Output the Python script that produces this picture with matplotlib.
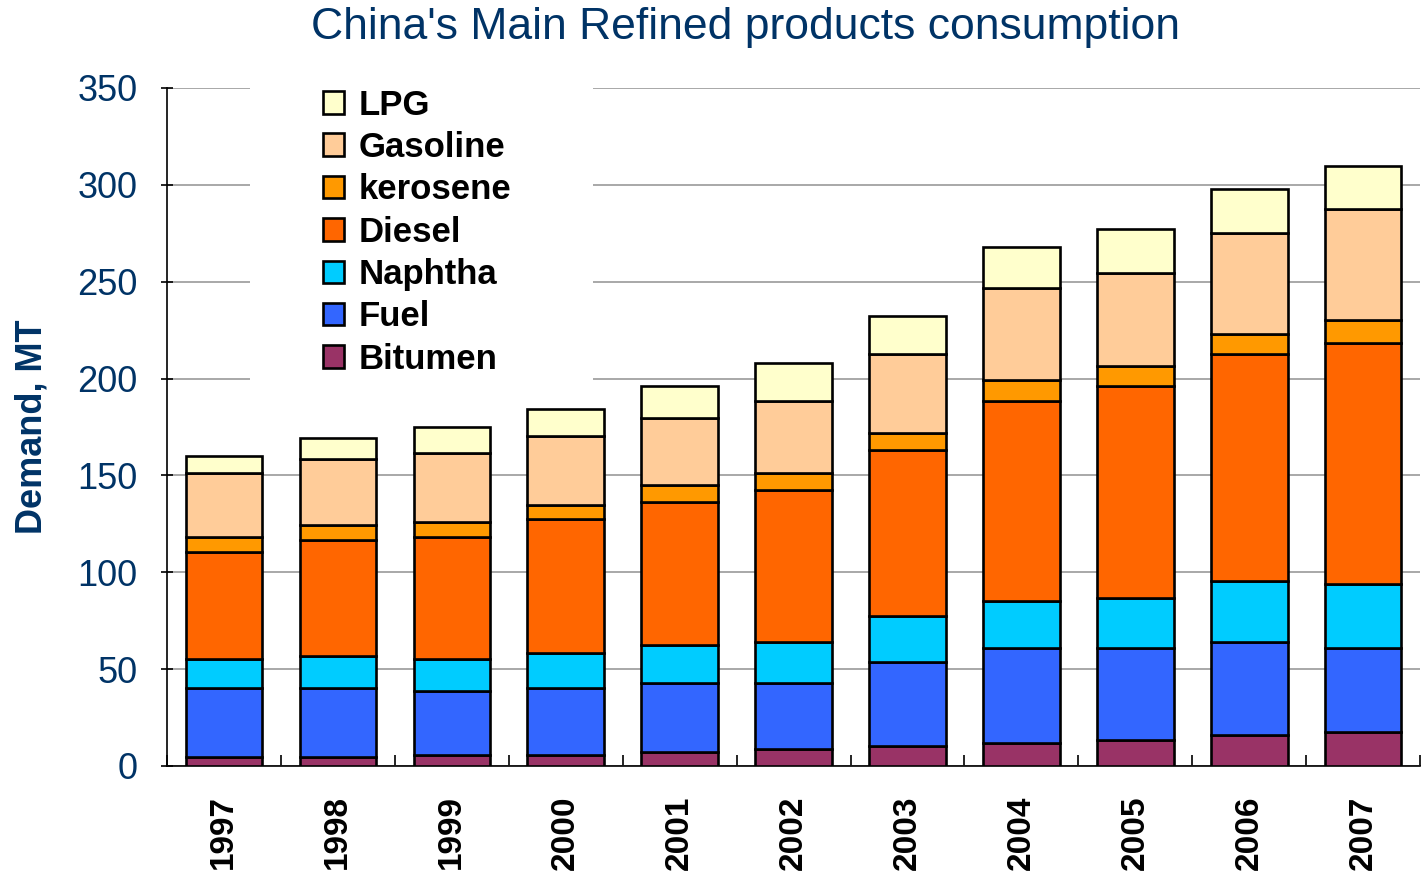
import matplotlib
matplotlib.use("Agg")
import matplotlib.pyplot as plt
from matplotlib.patches import Patch, Rectangle
import numpy as np

years = ["1997", "1998", "1999", "2000", "2001", "2002", "2003", "2004", "2005", "2006", "2007"]
bitumen = [4.6, 4.8, 5.7, 5.7, 7.2, 8.8, 10.3, 11.9, 13.4, 16.0, 17.6]
fuel = [35.7, 35.4, 33.0, 34.6, 35.6, 34.0, 43.4, 49.0, 47.5, 48.0, 43.3]
naphtha = [14.9, 16.8, 16.5, 18.0, 19.7, 21.2, 23.7, 24.3, 25.8, 31.5, 33.1]
diesel = [55.3, 59.7, 63.0, 69.2, 73.8, 78.5, 85.7, 103.2, 109.5, 117.2, 124.4]
kerosene = [7.7, 7.7, 7.8, 7.2, 8.7, 8.8, 8.8, 10.9, 10.3, 10.3, 11.9]
gasoline = [33.1, 34.1, 35.6, 35.7, 34.7, 37.1, 40.8, 47.5, 48.0, 52.2, 57.3]
lpg = [8.7, 10.8, 13.4, 13.9, 16.5, 19.6, 19.6, 21.2, 22.7, 22.7, 22.2]

series = [
    ("Bitumen", bitumen, "#993366"),
    ("Fuel", fuel, "#3366FF"),
    ("Naphtha", naphtha, "#00CCFF"),
    ("Diesel", diesel, "#FF6600"),
    ("kerosene", kerosene, "#FF9900"),
    ("Gasoline", gasoline, "#FFCC99"),
    ("LPG", lpg, "#FFFFCC"),
]

plt.rcParams["font.family"] = ["Liberation Sans", "DejaVu Sans"]
navy = "#003366"
fig = plt.figure(figsize=(14.26, 8.77), dpi=100)
ax = fig.add_axes([0.117, 0.1266, 0.879, 0.7731])

x = np.arange(len(years))
bottom = np.zeros(len(years))
for name, vals, col in series:
    ax.bar(x, vals, bottom=bottom, width=0.67, color=col, edgecolor="black",
           linewidth=1.9, zorder=3)
    bottom += np.array(vals)

ax.set_xlim(-0.5, len(years) - 0.5)
ax.set_ylim(0, 350)
ax.set_yticks(range(0, 351, 50))
ax.yaxis.grid(True, color="#999999", linewidth=1.2, zorder=0)
ax.set_axisbelow(True)

# white area behind legend hiding gridlines
ax.add_patch(Rectangle((0.066, 0.5), 0.274, 0.51, transform=ax.transAxes,
                       facecolor="white", edgecolor="none", zorder=1, clip_on=False))

for s in ["top", "right"]:
    ax.spines[s].set_visible(False)
ax.spines["left"].set_linewidth(1.2)
ax.spines["bottom"].set_linewidth(1.2)

ax.tick_params(axis="y", direction="inout", length=8, width=1.2, labelsize=26,
               labelcolor=navy, pad=17)
ax.set_xticks(x)
ax.set_xticklabels(years, rotation=90, fontsize=24, fontweight="bold")
ax.set_xticks(np.arange(-0.5, len(years), 1), minor=True)
ax.tick_params(axis="x", which="major", length=0, pad=21)
ax.tick_params(axis="x", which="minor", direction="in", length=8, width=1.2)

ax.set_ylabel("Demand, MT", fontsize=26, fontweight="bold", color=navy, labelpad=20)

handles = [Patch(facecolor=col, edgecolor="black", linewidth=1.9, label=name)
           for name, vals, col in series[::-1]]
leg = ax.legend(handles=handles, loc="upper left", bbox_to_anchor=(0.105, 1.035),
                frameon=False, prop={"size": 25, "weight": "bold"},
                handlelength=0.62, handleheight=0.62, handletextpad=0.4,
                labelspacing=0.27, borderpad=0.2)

fig.text(0.523, 0.969, "China's Main Refined products consumption", ha="center",
         va="center", fontsize=32, color=navy,
         family=["Liberation Sans", "DejaVu Sans"], fontweight="normal")

fig.savefig("out.png", dpi=100)
